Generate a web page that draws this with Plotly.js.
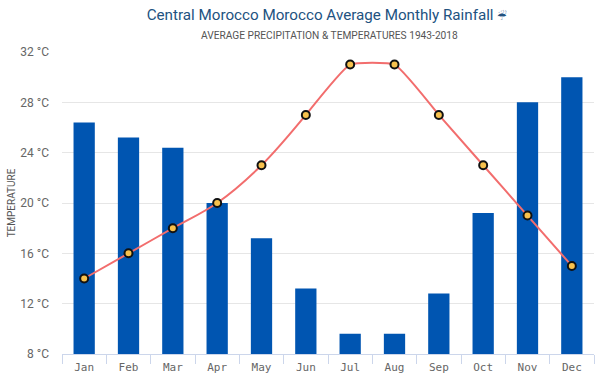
<!DOCTYPE html>
<html><head><meta charset="utf-8">
<script src="https://cdn.plot.ly/plotly-3.0.1.min.js"></script>
<style>html,body{margin:0;padding:0;background:#fff}#c{width:600px;height:378px}</style>
</head><body><div id="c"></div>
<script>
var months=['Jan','Feb','Mar','Apr','May','Jun','Jul','Aug','Sep','Oct','Nov','Dec'];
var rainfall=[26.4,25.2,24.4,20,17.2,13.2,9.6,9.6,12.8,19.2,28,30];
var temperature=[14,16,18,20,23,27,31,31,27,23,19,15];
var tickValues=[8,12,16,20,24,28,32];
var tickLabels=tickValues.map(function(v){return v+' °C';});
var titleText='Central Morocco Morocco Average Monthly Rainfall <span style="font-size:11px">☔\uFE0E</span>';
var subtitleText='AVERAGE PRECIPITATION & TEMPERATURES 1943-2018';
var yTitle='TEMPERATURE';
function seg(a,b,s){return {type:'scatter',mode:'lines',x:months.slice(a,b),y:temperature.slice(a,b),line:{color:'#f26d6d',width:2,shape:'spline',smoothing:s},showlegend:false,hoverinfo:'skip'};}

Plotly.newPlot('c',[
 {type:'bar',x:months,y:rainfall,marker:{color:'#0055b1',line:{width:0}},width:0.48,hoverinfo:'y',showlegend:false},
 seg(0,6,1),seg(5,9,0.4),seg(8,12,1),
 {type:'scatter',mode:'markers',x:months,y:temperature,
  marker:{color:'#f7c14d',size:8,line:{color:'#111',width:2}},cliponaxis:false,showlegend:false}
],{
 width:600,height:378,paper_bgcolor:'#fff',plot_bgcolor:'#fff',
 margin:{l:62,r:6,t:52,b:24},
 font:{family:'Roboto, sans-serif',color:'#666'},
 title:{text:titleText,font:{family:'Roboto, sans-serif',size:15.2,color:'#22527f'},x:0.545,xanchor:'center',y:0.962,yanchor:'middle'},
 annotations:[{text:subtitleText,xref:'paper',yref:'paper',x:0.503,y:1.056,xanchor:'center',yanchor:'middle',showarrow:false,font:{family:'Roboto, sans-serif',size:10.2,color:'#555'}}],
 xaxis:{type:'category',tickson:'boundaries',ticks:'outside',ticklen:9,tickcolor:'#ccd6eb',tickwidth:1,showline:true,linecolor:'#ccd6eb',linewidth:1,showgrid:false,
  tickfont:{family:'"DejaVu Sans Mono", monospace',size:11,color:'#666'},ticklabelstandoff:3,fixedrange:true,range:[-0.5,11.5]},
 yaxis:{range:[8,32],tickvals:tickValues,ticktext:tickLabels,showgrid:true,gridcolor:'#e6e6e6',gridwidth:1,zeroline:false,showline:false,ticks:'',
  tickfont:{family:'Roboto, sans-serif',size:12,color:'#666'},ticklabelstandoff:12,
  title:{text:yTitle,font:{family:'Roboto, sans-serif',size:10,color:'#555'},standoff:2},automargin:false,fixedrange:true},
 bargap:0.52
},{displayModeBar:false,staticPlot:true});
</script></body></html>
